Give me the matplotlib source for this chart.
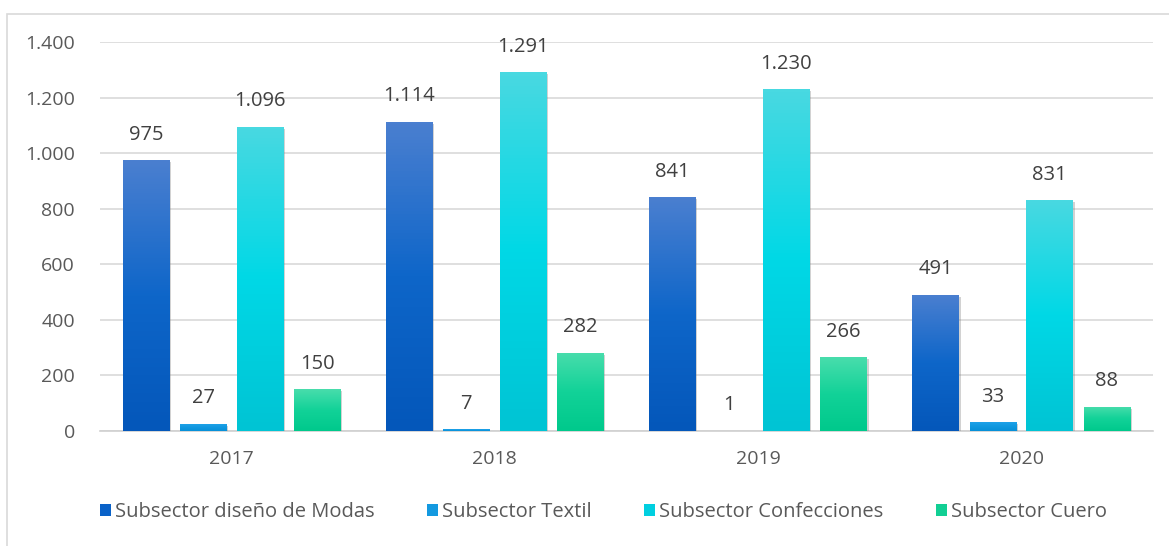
import numpy as np
import matplotlib.pyplot as plt
import matplotlib.patheffects as pe
from matplotlib.colors import LinearSegmentedColormap
from matplotlib.patches import Rectangle, Patch

plt.rcParams['font.family'] = ['Open Sans', 'DejaVu Sans']

# datos por año
years = ['2017', '2018', '2019', '2020']
series = ['Subsector diseño de Modas', 'Subsector Textil',
          'Subsector Confecciones', 'Subsector Cuero']
modas = [975, 1114, 841, 491]
textil = [27, 7, 1, 33]
confecciones = [1096, 1291, 1230, 831]
cuero = [150, 282, 266, 88]

# degradado (abajo, medio, arriba) y color de leyenda
grad = [('#0457ba', '#0e66c9', '#4a7fd0'),
        ('#0790d8', '#1299e0', '#22a4ea'),
        ('#00c4d4', '#00d8e6', '#48d9e1'),
        ('#00c98c', '#12d298', '#48ddac')]
legend_cols = ['#0a62c8', '#1399e0', '#00cfe0', '#12cf94']


def fmt(v):
    return f'{v:,}'.replace(',', '.')


fig = plt.figure(figsize=(11.69, 5.46), dpi=100)
ax = fig.add_axes([0.0855, 0.2106, 0.9005, 0.7124])

# marco exterior del gráfico
fig.patches.append(Rectangle((7 / 1169, -0.1), 1.1, 1 - 14 / 546 + 0.1,
                             transform=fig.transFigure, fill=False,
                             edgecolor='#d9d9d9', lw=1.2))

x = np.arange(len(years))
offsets = [-0.325, -0.108, 0.108, 0.325]
width = 0.175
data = [modas, textil, confecciones, cuero]

for vals, off, stops in zip(data, offsets, grad):
    bars = ax.bar(x + off, vals, width, color=stops[0], zorder=3,
                  path_effects=[pe.SimplePatchShadow(offset=(1.5, -1.5), shadow_rgbFace='#808080', alpha=0.35),
                                pe.Normal()])
    # gradiente vertical: claro arriba, oscuro abajo
    cmap = LinearSegmentedColormap.from_list('g', list(stops))
    for b, v in zip(bars, vals):
        x0 = b.get_x()
        im = ax.imshow(np.linspace(0, 1, 100).reshape(-1, 1), cmap=cmap,
                       origin='lower', aspect='auto',
                       extent=[x0, x0 + b.get_width(), 0, v], zorder=4)
        im.set_clip_path(b)
        ax.text(x0 + b.get_width() / 2, v + 55, fmt(v), ha='center', va='bottom',
                fontsize=14.5, color='#404040', zorder=5)

ax.set_xlim(-0.5, 3.5)
ax.set_ylim(0, 1400)
ax.set_yticks(np.arange(0, 1401, 200))
ax.set_yticklabels([fmt(v) for v in range(0, 1401, 200)])
ax.set_xticks(x)
ax.set_xticklabels(years)
ax.tick_params(axis='both', length=0, labelsize=14, colors='#595959')
ax.tick_params(axis='x', pad=14)
ax.tick_params(axis='y', pad=18)
ax.grid(axis='y', color='#d9d9d9', lw=1.2, zorder=0)
for s in ['top', 'right', 'left']:
    ax.spines[s].set_visible(False)
ax.spines['bottom'].set_color('#d0d0d0')
ax.spines['bottom'].set_linewidth(1.2)

handles = [Patch(facecolor=c, edgecolor='none') for c in legend_cols]
fig.legend(handles, series, loc='center', bbox_to_anchor=(0.516, 0.062),
           ncol=4, frameon=False, fontsize=14.5, labelcolor='#595959',
           handlelength=0.55, handleheight=0.55, handletextpad=0.2,
           columnspacing=2.6)

fig.savefig('out.png', dpi=100, facecolor='white')
